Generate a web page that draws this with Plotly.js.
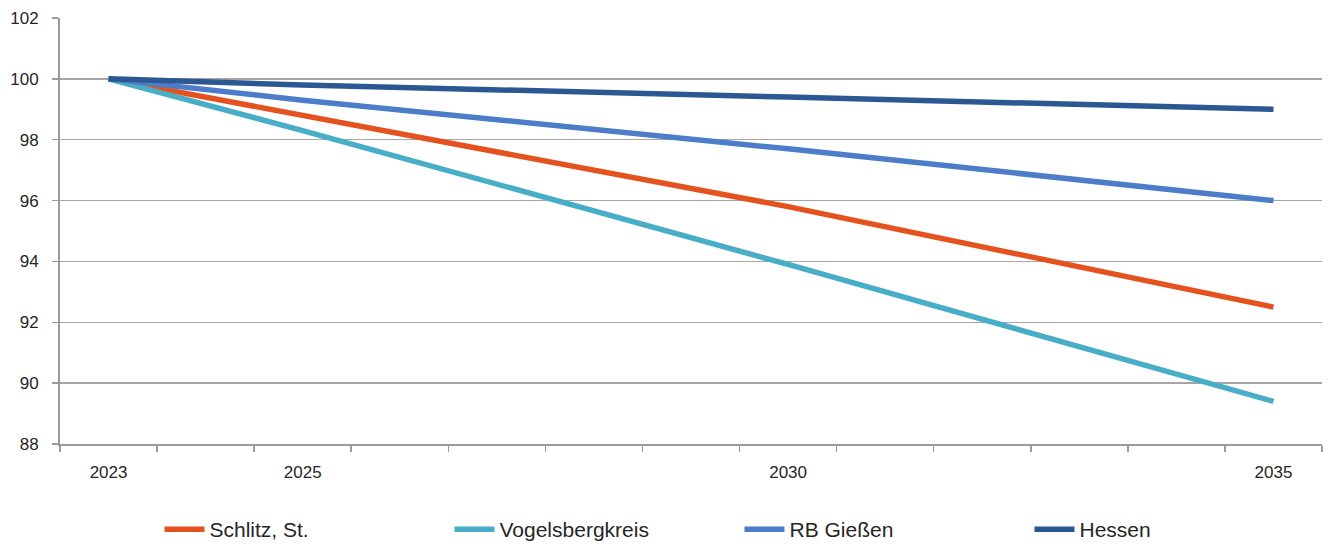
<!DOCTYPE html>
<html>
<head>
<meta charset="utf-8">
<script src="https://cdn.plot.ly/plotly-3.0.1.min.js"></script>
<style>html,body{margin:0;padding:0;background:#fff;}#chart{width:1330px;height:550px;}</style>
</head>
<body>
<div id="chart"></div>
<script>
const years = [2023, 2025, 2030, 2035];
const schlitz = [100, 98.8, 95.8, 92.5];
const vogelsberg = [100, 98.3, 93.9, 89.4];
const rbGiessen = [100, 99.3, 97.7, 96.0];
const hessen = [100, 99.8, 99.4, 99.0];
const seriesNames = ['Schlitz, St.', 'Vogelsbergkreis', 'RB Gießen', 'Hessen'];
const seriesColors = ['#E4531F', '#48ADC7', '#4D7DC8', '#2B5793'];
const tickYears = [2023, 2025, 2030, 2035];
const tickLabels = ['2023', '2025', '2030', '2035'];
const allYears = [2023,2024,2025,2026,2027,2028,2029,2030,2031,2032,2033,2034,2035];

const values = [schlitz, vogelsberg, rbGiessen, hessen];
const traces = values.map((v, i) => ({
  x: years, y: v, name: seriesNames[i], type: 'scatter', mode: 'lines',
  line: {color: seriesColors[i], width: 5.5}
}));

const boundaries = allYears.map(y => y - 0.5).concat([allYears[allYears.length-1] + 0.5]);

const layout = {
  width: 1330, height: 550,
  margin: {l: 60, r: 8, t: 18, b: 106},
  paper_bgcolor: '#fff', plot_bgcolor: '#fff',
  font: {family: 'Liberation Sans, Arial, sans-serif', color: '#262626'},
  showlegend: true,
  legend: {
    orientation: 'h', xref: 'container', yref: 'container',
    x: 0.556, xanchor: 'center', y: 0, yanchor: 'bottom',
    font: {size: 21, color: '#262626'},
    entrywidth: 235, itemwidth: 40, traceorder: 'normal'
  },
  xaxis: {
    range: [2022.5, 2035.5],
    tickmode: 'array', tickvals: tickYears, ticktext: tickLabels,
    ticks: '', showgrid: false, zeroline: false,
    showline: true, linecolor: '#9a9a9a', linewidth: 2,
    tickfont: {size: 17, color: '#262626'}, ticklabelstandoff: 12,
    minor: {tickmode: 'array', tickvals: boundaries, ticks: 'outside', ticklen: 6, tickcolor: '#9a9a9a', tickwidth: 1.5, showgrid: false}
  },
  yaxis: {
    range: [88, 102], tickmode: 'array', tickvals: [88,90,92,94,96,98,100,102],
    showgrid: true, gridcolor: '#a6a6a6', gridwidth: 1.5, zeroline: false,
    showline: true, linecolor: '#9a9a9a', linewidth: 2,
    ticks: 'outside', ticklen: 6, tickcolor: '#9a9a9a', tickwidth: 1.5,
    tickfont: {size: 17, color: '#262626'}, ticklabelstandoff: 10
  }
};

Plotly.newPlot('chart', traces, layout, {displayModeBar: false, staticPlot: true});
</script>
</body>
</html>
